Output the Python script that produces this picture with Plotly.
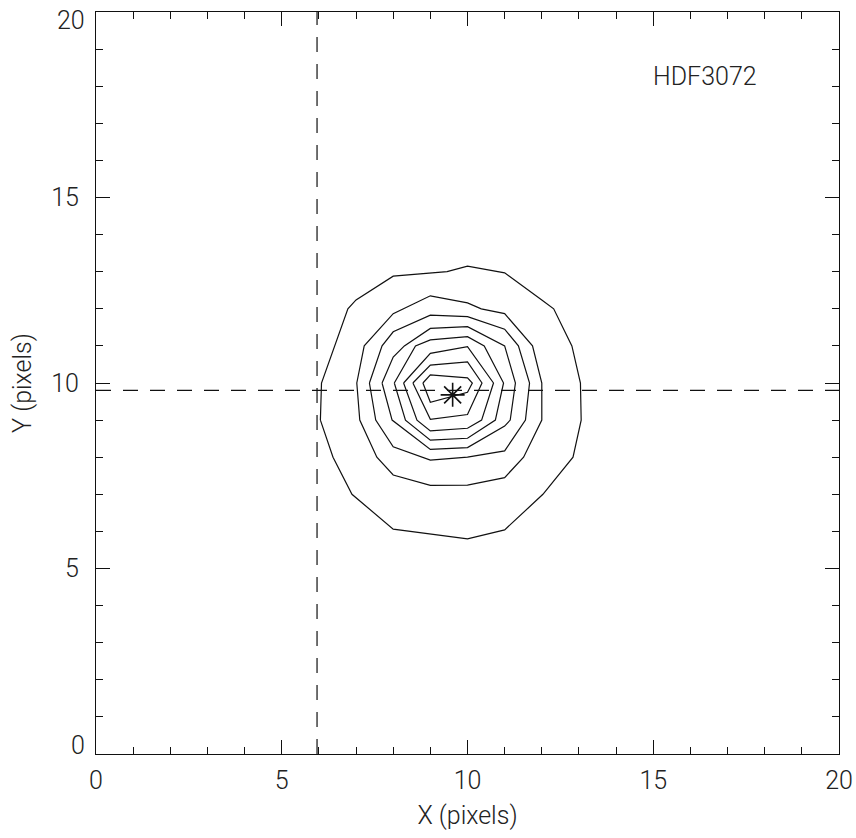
import plotly.graph_objects as go

# ---- data ----
x_ticks = [0, 5, 10, 15, 20]
x_tick_text = ["0", "5", "10", "15", "20"]
y_ticks = [0, 5, 10, 15, 20]
y_tick_text = ["", "5", "10", "15", ""]      # end labels drawn separately (nudged inward as in the reference)
y_end_labels = [("0", 0.24), ("20", 19.76)]

object_name = "HDF3072"
label_pos = (16.4, 18.25)

center_x = [9.6]
center_y = [9.68]

vline_x = 5.95
hline_y = 9.8

# contour rings, outermost to innermost (vertex coordinates in pixels)
c1_x = [6.04, 6.07, 6.78, 7.0, 8.0, 9.45, 10.0, 11.0, 12.0, 12.32, 12.81, 13.04, 13.06, 12.84, 12.03, 11.0, 10.0, 8.0, 6.89, 6.38]
c1_y = [9.0, 10.0, 12.0, 12.24, 12.88, 13.0, 13.15, 12.97, 12.24, 12.0, 11.0, 10.0, 9.0, 8.0, 7.0, 6.04, 5.8, 6.06, 7.0, 8.0]

c2_x = [7.02, 7.22, 8.0, 9.0, 10.0, 10.37, 11.0, 11.75, 12.0, 12.0, 11.51, 11.0, 10.0, 9.0, 8.0, 7.56, 7.1]
c2_y = [10.0, 11.0, 11.87, 12.35, 12.16, 12.0, 11.87, 11.0, 10.0, 9.0, 8.0, 7.45, 7.25, 7.24, 7.52, 8.0, 9.0]

c3_x = [7.36, 7.70, 8.0, 9.0, 10.0, 11.0, 11.37, 11.67, 11.56, 11.0, 10.0, 9.0, 8.0, 7.53]
c3_y = [10.0, 11.0, 11.38, 11.83, 11.79, 11.45, 11.0, 10.0, 9.0, 8.17, 8.0, 7.92, 8.28, 9.0]

c4_x = [7.70, 8.0, 8.3, 9.0, 10.0, 11.0, 11.29, 11.15, 11.0, 10.0, 9.0, 7.97]
c4_y = [10.0, 10.7, 11.0, 11.47, 11.52, 11.0, 10.0, 9.0, 8.84, 8.26, 8.21, 9.0]

c5_x = [8.03, 8.6, 9.0, 10.0, 10.45, 10.97, 10.75, 10.0, 9.0, 8.33]
c5_y = [10.0, 11.0, 11.16, 11.25, 11.0, 10.0, 9.0, 8.51, 8.46, 9.0]

c6_x = [8.28, 9.0, 10.0, 10.70, 10.38, 10.0, 9.0, 8.64]
c6_y = [10.0, 10.80, 10.98, 10.0, 9.0, 8.78, 8.71, 9.0]

c7_x = [8.53, 9.0, 10.0, 10.39, 10.0, 9.0]
c7_y = [10.0, 10.48, 10.57, 10.0, 9.15, 9.02]

c8_x = [8.8, 9.0, 10.0, 10.13, 10.0, 9.0]
c8_y = [10.0, 10.22, 10.14, 10.0, 9.75, 9.48]

rings = [(c1_x, c1_y), (c2_x, c2_y), (c3_x, c3_y), (c4_x, c4_y),
         (c5_x, c5_y), (c6_x, c6_y), (c7_x, c7_y), (c8_x, c8_y)]

FONT = "Roboto, Lato, DejaVu Sans, sans-serif"
WEIGHT = 300
INK = "#111111"
TXT = "#222222"
FS = 25

fig = go.Figure()

for rx, ry in rings:
    fig.add_trace(go.Scatter(x=rx + rx[:1], y=ry + ry[:1], mode="lines",
                             line=dict(color=INK, width=1.2),
                             hoverinfo="skip", showlegend=False))

fig.add_trace(go.Scatter(x=[vline_x, vline_x], y=[0, 20], mode="lines",
                         line=dict(color=INK, width=1.2, dash="15px,12px"),
                         showlegend=False))
fig.add_trace(go.Scatter(x=[0, 20], y=[hline_y, hline_y], mode="lines",
                         line=dict(color=INK, width=1.2, dash="15px,12px"),
                         showlegend=False))

fig.add_trace(go.Scatter(x=center_x, y=center_y, mode="markers",
                         marker=dict(symbol="asterisk-open", size=20, color=INK,
                                     line=dict(color=INK, width=1.6)),
                         showlegend=False))

fig.add_annotation(x=label_pos[0], y=label_pos[1], xref="x", yref="y",
                   text=object_name, showarrow=False,
                   font=dict(family=FONT, size=FS, color=TXT, weight=WEIGHT))

for txt, yv in y_end_labels:
    fig.add_annotation(x=0, y=yv, xref="paper", yref="y", text=txt,
                       showarrow=False, xanchor="right", yanchor="middle", xshift=-9,
                       font=dict(family=FONT, size=FS, color=TXT, weight=WEIGHT))

axis_common = dict(
    showgrid=False, zeroline=False, showline=True, linecolor=INK, linewidth=1.2,
    mirror="allticks", ticks="inside", ticklen=14, tickcolor=INK, tickwidth=1.2,
    minor=dict(ticks="inside", ticklen=7, dtick=1, tickcolor=INK, tickwidth=1.2),
    tickfont=dict(family=FONT, size=FS, color=TXT, weight=WEIGHT),
    automargin=False, ticklabeloverflow="allow",
)

fig.update_xaxes(range=[0, 20], tickvals=x_ticks, ticktext=x_tick_text,
                 title=dict(text="X (pixels)", font=dict(family=FONT, size=FS, color=TXT, weight=WEIGHT), standoff=12),
                 ticklabelstandoff=4, **axis_common)
fig.update_yaxes(range=[0, 20], tickvals=y_ticks, ticktext=y_tick_text,
                 title=dict(text="Y (pixels)", font=dict(family=FONT, size=FS, color=TXT, weight=WEIGHT), standoff=12),
                 ticklabelstandoff=11, **axis_common)

fig.update_layout(width=856, height=838, paper_bgcolor="white", plot_bgcolor="white",
                  margin=dict(l=96, r=17, t=12, b=84), showlegend=False)

# remove the page's default 8px body margin so the figure fills the window exactly
fig.write_html("out.html", config={"displayModeBar": False},
               post_script="document.body.style.margin='0';document.body.style.overflow='hidden';")
